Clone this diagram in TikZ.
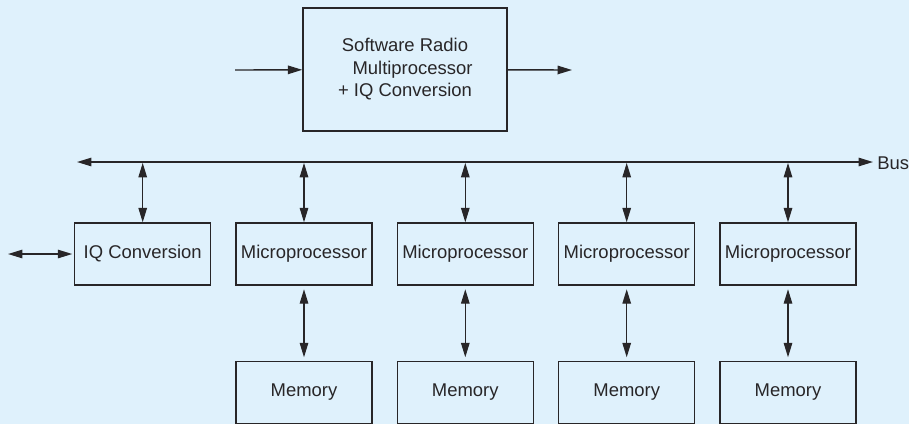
\documentclass[tikz,border=0pt]{standalone}
\usepackage{fontspec}
\setmainfont{Liberation Sans}
\usetikzlibrary{arrows.meta, positioning}
\definecolor{panel}{RGB}{223,241,252}
\definecolor{ink}{RGB}{40,38,40}

\begin{document}
\begin{tikzpicture}[
    x=0.02cm, y=-0.02cm,
    block/.style={rectangle, draw=ink, line width=0.8pt, minimum width=2.72cm, minimum height=1.24cm, inner sep=1pt, text=ink, font=\fontsize{10.5}{12.8}\selectfont},
    bigblock/.style={block, minimum width=4.08cm, minimum height=2.46cm, align=center},
    arrow/.style={-{Triangle[length=2.9mm,width=1.7mm]}, line width=0.8pt, draw=ink},
    twoway/.style={{Triangle[length=2.9mm,width=1.7mm]}-{Triangle[length=2.9mm,width=1.7mm]}, line width=0.8pt, draw=ink}
]

\useasboundingbox[fill=panel] (0,0) rectangle (909,424);

% Top block
\node[bigblock] (sdr) at (405,69.5) {Software Radio\\\hspace*{0.3cm}Multiprocessor\\+ IQ Conversion};
\coordinate (in) at (235,70);
\coordinate (out) at (572,70);
\draw[arrow] (in) -- (sdr);
\draw[arrow] (sdr) -- (out);

% Bus
\coordinate (busL) at (77,162);
\coordinate (busR) at (873,162);
\draw[twoway] (busL) -- (busR);
\node[anchor=west, inner sep=0pt, text=ink, font=\fontsize{10.5}{12.8}\selectfont] (bus) at (877,163) {Bus};

% Lower row
\node[block] (iq) at (142.7,254) {IQ Conversion};
\node[block] (mp1) at (304,254) {Microprocessor};
\node[block] (mp2) at (465.3,254) {Microprocessor};
\node[block] (mp3) at (626.7,254) {Microprocessor};
\node[block] (mp4) at (788,254) {Microprocessor};

\node[block] (mem1) at (304,392.5) {Memory};
\node[block] (mem2) at (465.3,392.5) {Memory};
\node[block] (mem3) at (626.7,392.5) {Memory};
\node[block] (mem4) at (788,392.5) {Memory};

% Links
\coordinate (ext) at (8,254);
\draw[twoway, shorten >=1pt] (ext) -- (iq);
\foreach \n in {iq,mp1,mp2,mp3,mp4}
    \draw[twoway, shorten <=0.5pt] (\n.north |- busL) -- (\n);
\foreach \i in {1,...,4}
    \draw[twoway, shorten <=2pt, shorten >=2pt] (mp\i) -- (mem\i);

\end{tikzpicture}
\end{document}
